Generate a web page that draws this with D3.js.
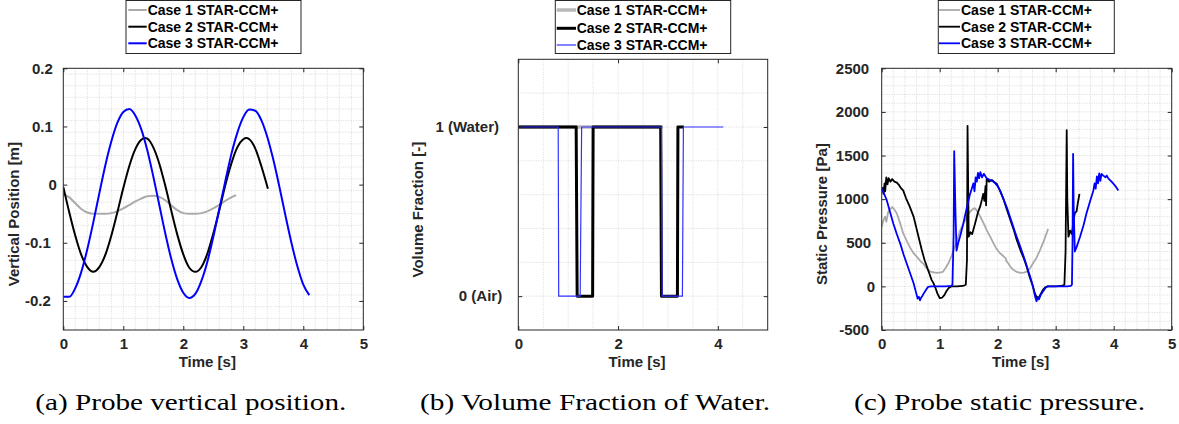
<!DOCTYPE html>
<html><head><meta charset="utf-8">
<script src="https://cdn.jsdelivr.net/npm/d3@7"></script>
<style>body{margin:0;background:#fff;}svg{display:block;}</style>
</head><body>
<svg id="chart" width="1179" height="424"></svg>
<script>
// ---------------- DATA ----------------
const legendLabels = ["Case 1 STAR-CCM+", "Case 2 STAR-CCM+", "Case 3 STAR-CCM+"];
const captions = ["(a) Probe vertical position.", "(b) Volume Fraction of Water.", "(c) Probe static pressure."];
const yTitles = ["Vertical Position [m]", "Volume Fraction [-]", "Static Pressure [Pa]"];
const xTitle = "Time [s]";

// Panel (a) vertical position [m] vs time [s]
const posTimeTicks = [0, 1, 2, 3, 4, 5];
const posTimeTickLabels = ["0", "1", "2", "3", "4", "5"];
const posTicks = [-0.2, -0.1, 0, 0.1, 0.2];
const posTickLabels = ["-0.2", "-0.1", "0", "0.1", "0.2"];
const posCase1 = [[0,-0.016],[0.1,-0.022],[0.2,-0.032],[0.3,-0.042],[0.4,-0.048],[0.5,-0.050],[0.6,-0.050],[0.7,-0.050],[0.8,-0.049],[0.9,-0.046],[1.0,-0.041],[1.1,-0.035],[1.2,-0.029],[1.3,-0.024],[1.4,-0.020],[1.5,-0.019],[1.6,-0.021],[1.7,-0.027],[1.8,-0.036],[1.9,-0.044],[2.0,-0.049],[2.1,-0.050],[2.2,-0.050],[2.3,-0.049],[2.4,-0.046],[2.5,-0.041],[2.6,-0.035],[2.7,-0.028],[2.8,-0.022],[2.88,-0.018]];
const posCase2 = [[0,-0.004],[0.1,-0.048],[0.2,-0.088],[0.3,-0.121],[0.4,-0.142],[0.5,-0.150],[0.6,-0.142],[0.7,-0.121],[0.8,-0.088],[0.9,-0.048],[1.0,-0.006],[1.1,0.032],[1.2,0.061],[1.3,0.077],[1.36,0.080],[1.4,0.079],[1.5,0.064],[1.6,0.036],[1.7,-0.002],[1.8,-0.045],[1.9,-0.086],[2.0,-0.120],[2.1,-0.143],[2.2,-0.150],[2.3,-0.142],[2.4,-0.119],[2.5,-0.084],[2.6,-0.044],[2.7,-0.001],[2.8,0.036],[2.9,0.064],[3.0,0.078],[3.05,0.080],[3.1,0.078],[3.2,0.062],[3.3,0.032],[3.41,-0.007]];
const posCase3 = [[0,-0.193],[0.1,-0.193],[0.2,-0.178],[0.3,-0.150],[0.4,-0.111],[0.5,-0.065],[0.6,-0.015],[0.7,0.033],[0.8,0.074],[0.9,0.106],[1.0,0.125],[1.1,0.130],[1.2,0.119],[1.3,0.095],[1.4,0.059],[1.5,0.014],[1.6,-0.035],[1.7,-0.084],[1.8,-0.128],[1.9,-0.163],[2.0,-0.186],[2.1,-0.195],[2.2,-0.188],[2.3,-0.166],[2.4,-0.133],[2.5,-0.090],[2.6,-0.042],[2.7,0.006],[2.8,0.052],[2.9,0.089],[3.0,0.116],[3.1,0.129],[3.2,0.127],[3.3,0.111],[3.4,0.082],[3.5,0.043],[3.6,-0.003],[3.7,-0.052],[3.8,-0.099],[3.9,-0.140],[4.0,-0.172],[4.1,-0.190]];

// Panel (b) volume fraction of water [-]
const vfTimeTicks = [0, 2, 4];
const vfTimeTickLabels = ["0", "2", "4"];
const vfTicks = [0, 1];
const vfTickLabels = ["0 (Air)", "1 (Water)"];
const vfCase1 = [[0,1],[2.9,1]];
const vfCase2 = [[0,1],[1.16,1],[1.18,0],[1.49,0],[1.5,1],[2.855,1],[2.87,0],[3.19,0],[3.2,1],[3.32,1]];
const vfCase3 = [[0,1],[0.8,1],[0.81,0],[1.24,0],[1.27,1],[2.87,1],[2.885,0],[3.29,0],[3.31,1],[4.11,1]];

// Panel (c) static pressure [Pa]
const prTimeTicks = [0, 1, 2, 3, 4, 5];
const prTimeTickLabels = ["0", "1", "2", "3", "4", "5"];
const prTicks = [-500, 0, 500, 1000, 1500, 2000, 2500];
const prTickLabels = ["-500", "0", "500", "1000", "1500", "2000", "2500"];
const prCase1 = [[0,680],[0.03,760],[0.057,800],[0.08,740],[0.11,850],[0.14,880],[0.18,910],[0.22,880],[0.26,835],[0.31,740],[0.37,610],[0.44,510],[0.5,430],[0.55,380],[0.62,330],[0.68,280],[0.72,260],[0.76,220],[0.8,185],[0.86,165],[0.95,155],[1.02,160],[1.06,170],[1.1,210],[1.15,265],[1.2,340],[1.24,415],[1.3,530],[1.35,640],[1.41,720],[1.47,800],[1.53,860],[1.58,890],[1.61,895],[1.65,860],[1.7,800],[1.76,720],[1.81,645],[1.87,570],[1.93,490],[1.98,430],[2.04,380],[2.1,345],[2.14,320],[2.15,290],[2.18,265],[2.22,225],[2.27,190],[2.33,165],[2.39,155],[2.45,158],[2.5,170],[2.56,210],[2.61,265],[2.67,330],[2.73,415],[2.8,530],[2.87,660]];
const prCase2 = [[0,1100],[0.02,1130],[0.03,1060],[0.05,1180],[0.06,1090],[0.08,1250],[0.1,1170],[0.12,1240],[0.15,1200],[0.18,1230],[0.22,1200],[0.26,1190],[0.3,1160],[0.34,1120],[0.37,1100],[0.42,1010],[0.48,920],[0.55,800],[0.62,610],[0.69,420],[0.74,300],[0.78,225],[0.82,150],[0.86,75],[0.89,40],[0.92,-5],[0.96,-80],[1.0,-135],[1.04,-130],[1.08,-100],[1.12,-50],[1.16,-15],[1.2,0],[1.3,0],[1.4,5],[1.45,20],[1.47,300],[1.48,1840],[1.49,1200],[1.5,570],[1.53,620],[1.56,600],[1.61,720],[1.66,850],[1.7,920],[1.73,1000],[1.75,1060],[1.77,980],[1.79,1150],[1.8,930],[1.81,1230],[1.85,1200],[1.9,1220],[1.95,1190],[1.98,1180],[2.05,1080],[2.1,1000],[2.16,875],[2.22,760],[2.28,640],[2.33,530],[2.4,400],[2.45,320],[2.5,225],[2.55,110],[2.59,35],[2.62,-30],[2.64,-80],[2.67,-120],[2.7,-140],[2.74,-90],[2.78,-40],[2.82,-10],[2.86,0],[3.0,0],[3.1,5],[3.15,20],[3.17,400],[3.19,1790],[3.2,1000],[3.22,570],[3.25,640],[3.28,600],[3.31,760],[3.33,840],[3.36,860],[3.38,950],[3.41,1060]];
const prCase3 = [[0,1120],[0.03,1080],[0.086,990],[0.14,860],[0.2,720],[0.26,600],[0.32,490],[0.38,360],[0.43,265],[0.49,150],[0.55,35],[0.58,-40],[0.6,-90],[0.62,-140],[0.64,-120],[0.66,-160],[0.68,-130],[0.7,-110],[0.73,-75],[0.76,-45],[0.8,-5],[0.85,0],[1.0,0],[1.1,0],[1.2,5],[1.22,20],[1.24,600],[1.25,1550],[1.27,900],[1.29,410],[1.32,500],[1.35,570],[1.4,700],[1.47,910],[1.52,1050],[1.58,1180],[1.6,1090],[1.62,1250],[1.64,1200],[1.66,1300],[1.68,1240],[1.7,1310],[1.73,1250],[1.76,1290],[1.81,1240],[1.87,1220],[1.93,1200],[2.0,1150],[2.04,1100],[2.1,1000],[2.16,900],[2.21,800],[2.3,620],[2.39,455],[2.47,300],[2.53,170],[2.56,110],[2.6,20],[2.63,-70],[2.65,-130],[2.67,-170],[2.69,-120],[2.71,-150],[2.74,-100],[2.78,-60],[2.82,-20],[2.86,0],[3.0,0],[3.2,0],[3.26,5],[3.28,20],[3.29,500],[3.3,1520],[3.31,900],[3.33,400],[3.36,450],[3.42,570],[3.48,700],[3.53,835],[3.59,970],[3.65,1100],[3.67,1180],[3.69,1120],[3.71,1260],[3.73,1180],[3.75,1295],[3.77,1210],[3.79,1290],[3.82,1270],[3.86,1250],[3.88,1270],[3.91,1235],[3.95,1210],[3.99,1180],[4.04,1140],[4.08,1100]];

// ---------------- LAYOUT / STYLE ----------------
const SANS = "'Liberation Sans', Arial, Helvetica, sans-serif";
const SERIF = "'Liberation Serif', 'Times New Roman', serif";
const AXC = "#262626";
const svg = d3.select("#chart");

const panels = [
  { id: "a", left: 63.3, right: 363.3, top: 68.3, bottom: 330,
    xDomain: [0, 5], yDomain: [-0.25, 0.2],
    xTicks: posTimeTicks, xTickLabels: posTimeTickLabels, yTicks: posTicks, yTickLabels: posTickLabels,
    xGridStep: 0.2, yGridStep: 0.02, labelK: 2.0,
    series: [posCase1, posCase2, posCase3], colors: ["#aaaaaa", "#000000", "#0000ff"], widths: [2, 2, 2],
    curve: d3.curveMonotoneX,
    yTitleX: 13.5, legend: { x: 126, w: 175, l1: 128.3, l2: 146.7, tx: 147.7, rows: [10, 26.7, 43.3] },
    caption: { cx: 190.8, w: 311 } },
  { id: "b", left: 518.3, right: 767.7, top: 59.3, bottom: 330,
    xDomain: [0, 5], yDomain: [-0.2, 1.4],
    xTicks: vfTimeTicks, xTickLabels: vfTimeTickLabels, yTicks: vfTicks, yTickLabels: vfTickLabels,
    xGridStep: 0.5, yGridStep: 0.2, labelK: 1.6,
    series: [vfCase1, vfCase2, vfCase3], colors: ["#b8b8b8", "#000000", "#3030ff"], widths: [3.5, 3, 1.2],
    curve: d3.curveLinear,
    yTitleX: 417.7, legend: { x: 555.3, w: 175.4, l1: 556.7, l2: 576, tx: 576.7, rows: [10, 28.3, 45] },
    caption: { cx: 595, w: 350 } },
  { id: "c", left: 881.7, right: 1171.7, top: 68.3, bottom: 330,
    xDomain: [0, 5], yDomain: [-500, 2500],
    xTicks: prTimeTicks, xTickLabels: prTimeTickLabels, yTicks: prTicks, yTickLabels: prTickLabels,
    xGridStep: 0.2, yGridStep: 100, labelK: 2.0,
    series: [prCase1, prCase2, prCase3], colors: ["#aaaaaa", "#000000", "#0000ff"], widths: [1.8, 1.8, 1.8],
    curve: d3.curveLinear,
    yTitleX: 821.7, legend: { x: 938.3, w: 176, l1: 939, l2: 960, tx: 961, rows: [10, 26.7, 43.3] },
    caption: { cx: 999.5, w: 291 } }
];

function gridValues(domain, step) {
  const n = Math.round((domain[1] - domain[0]) / step);
  const vals = [];
  for (let i = 1; i < n; i++) vals.push(+(domain[0] + i * step).toFixed(6));
  return vals;
}

panels.forEach((p, pi) => {
  const x = d3.scaleLinear().domain(p.xDomain).range([p.left, p.right]);
  const y = d3.scaleLinear().domain(p.yDomain).range([p.bottom, p.top]);
  const g = svg.append("g");

  // grid
  g.append("g").selectAll("line").data(gridValues(p.xDomain, p.xGridStep)).join("line")
    .attr("x1", d => x(d)).attr("x2", d => x(d)).attr("y1", p.top).attr("y2", p.bottom)
    .attr("stroke", "#cfcfcf").attr("stroke-width", 0.8).attr("stroke-dasharray", "1,1.5");
  g.append("g").selectAll("line").data(gridValues(p.yDomain, p.yGridStep)).join("line")
    .attr("y1", d => y(d)).attr("y2", d => y(d)).attr("x1", p.left).attr("x2", p.right)
    .attr("stroke", "#cfcfcf").attr("stroke-width", 0.8).attr("stroke-dasharray", "1,1.5");

  // clip
  svg.append("clipPath").attr("id", "clip-" + p.id).append("rect")
    .attr("x", p.left).attr("y", p.top).attr("width", p.right - p.left).attr("height", p.bottom - p.top);

  // series
  const line = d3.line().x(d => x(d[0])).y(d => y(d[1])).curve(p.curve);
  p.series.forEach((s, i) => {
    g.append("path").datum(s).attr("d", line)
      .attr("fill", "none").attr("stroke", p.colors[i]).attr("stroke-width", p.widths[i])
      .attr("stroke-linejoin", "round").attr("clip-path", `url(#clip-${p.id})`);
  });

  // box
  g.append("rect").attr("x", p.left).attr("y", p.top).attr("width", p.right - p.left).attr("height", p.bottom - p.top)
    .attr("fill", "none").attr("stroke", AXC).attr("stroke-width", 1);

  // axes
  const styleAxis = sel => {
    sel.select(".domain").remove();
    sel.selectAll(".tick line").attr("stroke", AXC);
    sel.attr("font-family", SANS).attr("font-size", 15).attr("font-weight", "bold");
    sel.selectAll("text").attr("fill", AXC);
  };
  g.append("g").attr("transform", `translate(0,${p.bottom})`)
    .call(d3.axisBottom(x).tickValues(p.xTicks).tickFormat((d, i) => p.xTickLabels[i]).tickSizeInner(-4).tickSizeOuter(0).tickPadding(8))
    .call(styleAxis);
  g.append("g").attr("transform", `translate(0,${p.top})`)
    .call(d3.axisTop(x).tickValues(p.xTicks).tickFormat("").tickSizeInner(-4).tickSizeOuter(0))
    .call(styleAxis);
  const yl = g.append("g").attr("transform", `translate(${p.left},0)`)
    .call(d3.axisLeft(y).tickValues(p.yTicks).tickFormat((d, i) => p.yTickLabels[i]).tickSizeInner(-4).tickSizeOuter(0).tickPadding(6.5))
    .call(styleAxis);
  yl.selectAll(".tick text").attr("x", (d, i) => -(6.5 + p.labelK * (p.yTickLabels[i].length - 1)));
  g.append("g").attr("transform", `translate(${p.right},0)`)
    .call(d3.axisRight(y).tickValues(p.yTicks).tickFormat("").tickSizeInner(-4).tickSizeOuter(0))
    .call(styleAxis);

  // axis titles
  g.append("text").attr("x", (p.left + p.right) / 2 - 6).attr("y", 367)
    .attr("text-anchor", "middle").attr("font-family", SANS).attr("font-size", 15).attr("font-weight", "bold")
    .attr("fill", AXC).text(xTitle);
  const cy = (p.top + p.bottom) / 2 + 15;
  g.append("text").attr("transform", `translate(${p.yTitleX},${cy}) rotate(-90)`).attr("dy", "0.35em")
    .attr("text-anchor", "middle").attr("font-family", SANS).attr("font-size", 15).attr("font-weight", "bold")
    .attr("fill", AXC).text(yTitles[pi]);

  // legend
  const L = p.legend;
  const lg = g.append("g");
  lg.append("rect").attr("x", L.x).attr("y", 0.5).attr("width", L.w).attr("height", 53)
    .attr("fill", "#fff").attr("stroke", AXC).attr("stroke-width", 1);
  legendLabels.forEach((lab, i) => {
    lg.append("line").attr("x1", L.l1).attr("x2", L.l2).attr("y1", L.rows[i]).attr("y2", L.rows[i])
      .attr("stroke", p.colors[i]).attr("stroke-width", p.widths[i]);
    lg.append("text").attr("x", L.tx).attr("y", L.rows[i]).attr("dy", "0.35em")
      .attr("font-family", SANS).attr("font-size", 14).attr("font-weight", "bold").attr("fill", "#000").text(lab);
  });

  // caption
  g.append("text").attr("x", p.caption.cx).attr("y", 410).attr("text-anchor", "middle")
    .attr("font-family", SERIF).attr("font-size", 24).attr("fill", "#000")
    .attr("textLength", p.caption.w).attr("lengthAdjust", "spacingAndGlyphs")
    .text(captions[pi]);
});
</script>
</body></html>
